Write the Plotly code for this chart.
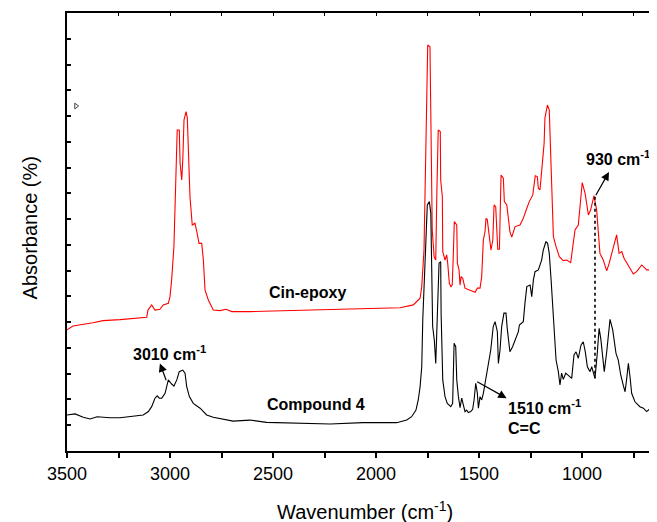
import plotly.graph_objects as go

# ---- Data (wavenumber in cm-1, absorbance in arbitrary offset units) ----
cin_wn = [3500, 3471, 3374, 3325, 3243, 3131, 3113, 3107, 3089, 3073, 3049, 3033, 3008, 3000, 2992,
          2981, 2971, 2965, 2955, 2951, 2943, 2938, 2932, 2922, 2916, 2911, 2903, 2892, 2879, 2870,
          2859, 2846, 2838, 2830, 2814, 2790, 2757, 2728, 2700, 2612, 2369, 2126, 1883, 1819, 1786,
          1778, 1767, 1757, 1749, 1738, 1733, 1727, 1718, 1710, 1705, 1698, 1688, 1686, 1678, 1676,
          1665, 1657, 1652, 1644, 1636, 1630, 1625, 1620, 1608, 1605, 1597, 1592, 1587, 1579, 1568,
          1544, 1519, 1508, 1495, 1487, 1479, 1471, 1466, 1460, 1455, 1447, 1442, 1433, 1427, 1419,
          1414, 1409, 1401, 1398, 1393, 1382, 1377, 1365, 1358, 1350, 1341, 1325, 1301, 1285, 1268,
          1256, 1239, 1233, 1227, 1217, 1212, 1204, 1196, 1184, 1180, 1168, 1159, 1152, 1147, 1139,
          1126, 1110, 1091, 1074, 1055, 1045, 1034, 1018, 1010, 999, 985, 969, 958, 942, 929,
          921, 913, 897, 880, 868, 856, 845, 832, 820, 807, 796, 775, 751, 735, 710,
          686, 662, 646, 636]
cin_abs = [4.70, 4.85, 4.98, 5.06, 5.10, 5.16, 5.19, 5.47, 5.67, 5.47, 5.50, 5.67, 5.73, 5.99, 6.64,
           7.93, 10.52, 12.46, 12.46, 11.17, 10.52, 11.30, 12.85, 13.17, 12.92, 11.68, 9.87, 8.77, 8.84, 8.51,
           8.06, 8.06, 7.41, 6.25, 5.86, 5.47, 5.45, 5.50, 5.41, 5.41, 5.47, 5.51, 5.56, 5.67, 5.93,
           6.38, 7.80, 12.72, 15.76, 15.69, 12.46, 8.58, 7.54, 7.41, 9.87, 12.46, 12.40, 10.52, 9.87, 7.74,
           7.41, 7.61, 7.29, 6.51, 6.38, 6.44, 7.54, 8.90, 8.77, 7.29, 7.03, 6.44, 6.77, 6.70, 6.32,
           6.25, 6.16, 6.32, 6.32, 6.77, 8.19, 8.51, 9.03, 8.99, 8.58, 8.19, 7.80, 8.19, 9.55, 9.48,
           8.58, 7.83, 7.83, 9.10, 10.71, 10.59, 9.68, 9.55, 8.97, 8.51, 8.30, 8.71, 8.77, 9.03, 9.42,
           9.68, 9.94, 10.26, 10.68, 10.65, 10.20, 10.13, 10.91, 11.94, 12.92, 13.43, 13.24, 11.68, 9.87, 8.32,
           7.93, 7.54, 7.39, 7.41, 7.31, 7.93, 8.58, 8.77, 9.62, 10.42, 10.00, 9.16, 9.36, 9.90, 9.36,
           8.32, 7.67, 7.41, 6.99, 7.29, 7.67, 7.93, 8.39, 7.67, 7.74, 7.48, 7.22, 6.87, 6.96, 7.22,
           7.03, 7.03, 6.92, 6.87]

cmp_wn = [3500, 3461, 3421, 3388, 3354, 3291, 3243, 3130, 3105, 3089, 3073, 3062, 3052, 3040, 3024,
          3016, 3008, 2992, 2981, 2967, 2955, 2938, 2927, 2919, 2906, 2887, 2854, 2822, 2790, 2694,
          2612, 2531, 2223, 2063, 1900, 1851, 1827, 1806, 1795, 1786, 1778, 1773, 1767, 1759, 1751,
          1741, 1734, 1730, 1725, 1717, 1710, 1702, 1694, 1686, 1684, 1676, 1665, 1654, 1637, 1628,
          1621, 1613, 1608, 1600, 1592, 1584, 1576, 1568, 1560, 1552, 1540, 1531, 1524, 1516, 1508,
          1503, 1495, 1487, 1479, 1466, 1455, 1443, 1431, 1422, 1411, 1406, 1398, 1390, 1379, 1369,
          1363, 1350, 1337, 1325, 1309, 1304, 1285, 1277, 1268, 1252, 1244, 1236, 1228, 1212, 1196,
          1188, 1175, 1167, 1159, 1150, 1142, 1135, 1126, 1115, 1107, 1099, 1091, 1079, 1067, 1050,
          1039, 1029, 1018, 1005, 994, 984, 974, 961, 953, 942, 937, 926, 917, 909, 899,
          892, 880, 864, 851, 835, 824, 812, 800, 791, 783, 775, 767, 759, 743, 719,
          702, 686, 673, 662, 651, 636]
cmp_abs = [1.40, 1.44, 1.31, 1.24, 1.33, 1.29, 1.29, 1.40, 1.53, 1.72, 2.05, 2.14, 2.05, 2.05, 2.24,
           2.56, 2.76, 2.60, 2.52, 2.76, 3.08, 3.14, 3.02, 2.50, 2.11, 1.85, 1.66, 1.40, 1.31, 1.16,
           1.20, 1.11, 1.05, 1.10, 1.10, 1.20, 1.33, 1.59, 1.98, 2.50, 3.27, 5.09, 6.64, 7.93, 9.55,
           9.68, 9.23, 6.64, 4.83, 4.31, 3.40, 5.35, 7.29, 7.35, 5.35, 2.76, 2.11, 1.85, 1.72, 1.85,
           4.18, 4.05, 2.76, 2.11, 1.68, 2.05, 1.72, 1.53, 1.59, 1.49, 1.53, 1.62, 1.98, 2.63, 2.24,
           1.66, 2.11, 1.98, 2.24, 2.88, 3.47, 3.92, 4.83, 5.02, 4.63, 3.40, 3.92, 4.83, 5.35, 5.35,
           4.76, 3.85, 4.05, 4.31, 4.63, 4.89, 5.02, 5.73, 6.38, 6.44, 5.99, 6.64, 6.96, 7.03, 7.41,
           7.80, 8.13, 8.06, 7.67, 6.64, 5.73, 4.70, 3.53, 3.08, 2.56, 3.02, 2.78, 3.02, 2.95, 2.82,
           3.73, 3.85, 3.60, 4.11, 4.24, 3.85, 3.27, 3.08, 3.27, 2.88, 2.82, 3.79, 4.76, 4.37, 3.53,
           3.08, 3.85, 5.11, 4.70, 3.79, 3.53, 2.95, 2.56, 2.30, 2.82, 3.40, 2.88, 2.24, 1.91, 1.72,
           1.66, 1.53, 1.62, 1.53, 1.79, 1.79]

x_ticks = [3500, 3000, 2500, 2000, 1500, 1000]
x_tick_labels = ["3500", "3000", "2500", "2000", "1500", "1000"]

# annotation anchors (data units)
marker_930_wn = 937
marker_930_top = 9.87
marker_930_bottom = 2.82

FONT = "Liberation Sans, Arial, sans-serif"

fig = go.Figure()
fig.add_trace(go.Scatter(x=cin_wn, y=cin_abs, mode="lines", line=dict(color="#ff0000", width=1.1),
                         showlegend=False, hoverinfo="skip"))
fig.add_trace(go.Scatter(x=cmp_wn, y=cmp_abs, mode="lines", line=dict(color="#000000", width=1.1),
                         showlegend=False, hoverinfo="skip"))
# dotted guide at 930 cm-1
fig.add_trace(go.Scatter(x=[marker_930_wn, marker_930_wn], y=[marker_930_top, marker_930_bottom],
                         mode="lines", line=dict(color="#000000", width=1.6, dash="dot"),
                         showlegend=False, hoverinfo="skip"))
# small stray symbol near top-left
fig.add_trace(go.Scatter(x=[3456], y=[13.39], mode="markers",
                         marker=dict(symbol="triangle-right-open", size=5, color="#444",
                                     line=dict(width=1)),
                         showlegend=False, hoverinfo="skip"))
# empty trace to carry the top tick axis
fig.add_trace(go.Scatter(x=[], y=[], xaxis="x2", yaxis="y", showlegend=False))

bold = dict(family=FONT, size=16, color="black")
annos = [
    dict(x=2335, y=6.17, text="<b>Cin-epoxy</b>", showarrow=False, xanchor="center", yanchor="middle", font=bold),
    dict(x=2291, y=1.79, text="<b>Compound 4</b>", showarrow=False, xanchor="center", yanchor="middle", font=bold),
    dict(x=3189, y=3.80, text="<b>3010 cm<sup>-1</sup></b>", showarrow=False, xanchor="left", yanchor="middle", font=bold),
    dict(x=1369, y=1.71, text="<b>1510 cm<sup>-1</sup></b>", showarrow=False, xanchor="left", yanchor="middle", font=bold),
    dict(x=1369, y=0.89, text="<b>C=C</b>", showarrow=False, xanchor="left", yanchor="middle", font=bold),
    dict(x=660, y=11.37, text="<b>930 cm<sup>-1</sup></b>", showarrow=False, xanchor="right", yanchor="middle",
         font=dict(family=FONT, size=16, color="black")),
    # arrows
    dict(x=3049, y=3.40, ax=3016, ay=2.69, axref="x", ayref="y", text="", showarrow=True,
         arrowhead=2, arrowsize=1.4, arrowwidth=1.2, arrowcolor="black"),
    dict(x=1366, y=2.05, ax=1516, ay=2.72, axref="x", ayref="y", text="", showarrow=True,
         arrowhead=2, arrowsize=1.4, arrowwidth=1.2, arrowcolor="black"),
    dict(x=869, y=10.83, ax=937, ay=9.87, axref="x", ayref="y", text="", showarrow=True,
         arrowhead=2, arrowsize=1.4, arrowwidth=1.2, arrowcolor="black"),
    # axis titles (paper coordinates)
    dict(xref="paper", yref="paper", x=0.505, y=-0.135, text="Wavenumber (cm<sup>-1</sup>)",
         showarrow=False, xanchor="center", yanchor="middle", font=dict(family=FONT, size=20, color="black")),
    dict(xref="paper", yref="paper", x=-0.063, y=0.51, text="Absorbance (%)", textangle=-90,
         showarrow=False, xanchor="center", yanchor="middle", font=dict(family=FONT, size=20, color="black")),
]

# The page body has an 8px default margin, so the figure is sized/offset to
# land the plot frame where the reference has it.
fig.update_layout(
    width=649, height=514,
    margin=dict(l=59, r=0, t=5, b=71, autoexpand=False),
    paper_bgcolor="white", plot_bgcolor="white",
    font=dict(family=FONT, color="black"),
    annotations=annos,
    xaxis=dict(
        range=[3500, 636], tickmode="array", tickvals=x_ticks, ticktext=x_tick_labels,
        ticks="outside", ticklen=5, tickwidth=1.5, tickcolor="black",
        minor=dict(dtick=250, tick0=0, ticks="outside", ticklen=5, tickwidth=1.5, tickcolor="black"),
        showline=True, linewidth=2, linecolor="black", mirror=True,
        showgrid=False, zeroline=False, automargin=False,
        tickfont=dict(family=FONT, size=18, color="black"),
    ),
    xaxis2=dict(
        range=[3500, 636], overlaying="x", anchor="y", side="top",
        tick0=0, dtick=250, ticks="inside", ticklen=3, tickwidth=1.2, tickcolor="black",
        showticklabels=False, showgrid=False, zeroline=False, showline=False, automargin=False,
    ),
    yaxis=dict(
        range=[0, 17], dtick=1, tick0=0, ticks="inside", ticklen=4, tickwidth=1.5, tickcolor="black",
        showticklabels=False, showline=True, linewidth=2, linecolor="black", mirror=False,
        showgrid=False, zeroline=False, automargin=False,
    ),
)

fig.write_html("out.html")
